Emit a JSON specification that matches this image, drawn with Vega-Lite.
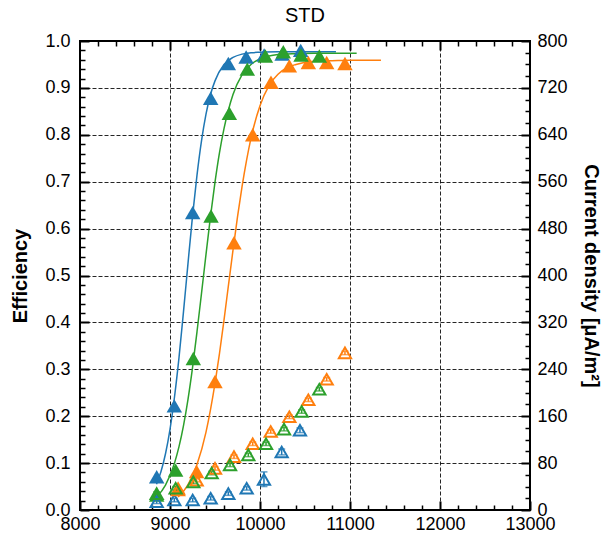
{
  "$schema": "https://vega.github.io/schema/vega-lite/v6.json",
  "width": 450,
  "height": 469,
  "autosize": {"type": "none"},
  "padding": {"left": 80, "top": 41, "right": 76, "bottom": 27},
  "title": {"text": "STD", "fontSize": 20, "font": "Liberation Sans", "fontWeight": "normal", "offset": 6, "anchor": "middle", "color": "black"},
  "config": {
    "view": {"stroke": "black", "strokeWidth": 2},
    "axis": {"labelFont": "Liberation Sans", "labelFontSize": 18, "labelColor": "black", "titleFont": "Liberation Sans", "titleFontSize": 20, "titleFontWeight": "bold", "titleColor": "black", "tickColor": "black", "domain": false, "labelFlush": false, "labelOverlap": false, "gridColor": "black", "gridDash": [4, 2], "gridWidth": 1, "gridOpacity": 0.85}
  },
  "datasets": {
    "curves": [
      {"s": "A", "x": 8850, "y": 0.055}, {"s": "A", "x": 8900, "y": 0.082}, {"s": "A", "x": 8950, "y": 0.120}, {"s": "A", "x": 9000, "y": 0.172}, {"s": "A", "x": 9050, "y": 0.241}, {"s": "A", "x": 9100, "y": 0.325}, {"s": "A", "x": 9150, "y": 0.423}, {"s": "A", "x": 9200, "y": 0.526}, {"s": "A", "x": 9250, "y": 0.626}, {"s": "A", "x": 9300, "y": 0.714}, {"s": "A", "x": 9350, "y": 0.787}, {"s": "A", "x": 9400, "y": 0.844}, {"s": "A", "x": 9450, "y": 0.886}, {"s": "A", "x": 9500, "y": 0.915}, {"s": "A", "x": 9600, "y": 0.950}, {"s": "A", "x": 9700, "y": 0.965}, {"s": "A", "x": 9800, "y": 0.972}, {"s": "A", "x": 9900, "y": 0.975}, {"s": "A", "x": 10000, "y": 0.976}, {"s": "A", "x": 10200, "y": 0.977}, {"s": "A", "x": 10500, "y": 0.977}, {"s": "A", "x": 10844, "y": 0.977},
      {"s": "B", "x": 9090, "y": 0.028}, {"s": "B", "x": 9150, "y": 0.040}, {"s": "B", "x": 9200, "y": 0.054}, {"s": "B", "x": 9300, "y": 0.097}, {"s": "B", "x": 9400, "y": 0.166}, {"s": "B", "x": 9450, "y": 0.214}, {"s": "B", "x": 9500, "y": 0.270}, {"s": "B", "x": 9550, "y": 0.334}, {"s": "B", "x": 9600, "y": 0.405}, {"s": "B", "x": 9650, "y": 0.480}, {"s": "B", "x": 9700, "y": 0.554}, {"s": "B", "x": 9750, "y": 0.625}, {"s": "B", "x": 9800, "y": 0.689}, {"s": "B", "x": 9850, "y": 0.745}, {"s": "B", "x": 9900, "y": 0.793}, {"s": "B", "x": 10000, "y": 0.862}, {"s": "B", "x": 10100, "y": 0.905}, {"s": "B", "x": 10200, "y": 0.929}, {"s": "B", "x": 10300, "y": 0.943}, {"s": "B", "x": 10400, "y": 0.950}, {"s": "B", "x": 10600, "y": 0.957}, {"s": "B", "x": 10800, "y": 0.958}, {"s": "B", "x": 11000, "y": 0.959}, {"s": "B", "x": 11344, "y": 0.959},
      {"s": "C", "x": 8850, "y": 0.027}, {"s": "C", "x": 8950, "y": 0.053}, {"s": "C", "x": 9050, "y": 0.100}, {"s": "C", "x": 9100, "y": 0.135}, {"s": "C", "x": 9150, "y": 0.180}, {"s": "C", "x": 9200, "y": 0.236}, {"s": "C", "x": 9250, "y": 0.303}, {"s": "C", "x": 9300, "y": 0.380}, {"s": "C", "x": 9350, "y": 0.462}, {"s": "C", "x": 9400, "y": 0.545}, {"s": "C", "x": 9450, "y": 0.626}, {"s": "C", "x": 9500, "y": 0.699}, {"s": "C", "x": 9550, "y": 0.762}, {"s": "C", "x": 9600, "y": 0.813}, {"s": "C", "x": 9700, "y": 0.886}, {"s": "C", "x": 9800, "y": 0.928}, {"s": "C", "x": 9900, "y": 0.950}, {"s": "C", "x": 10000, "y": 0.962}, {"s": "C", "x": 10100, "y": 0.968}, {"s": "C", "x": 10200, "y": 0.971}, {"s": "C", "x": 10400, "y": 0.973}, {"s": "C", "x": 10600, "y": 0.974}, {"s": "C", "x": 11074, "y": 0.974}
    ],
    "eff": [
      {"s": "A", "x": 8852, "y": 0.071}, {"s": "A", "x": 9048, "y": 0.222}, {"s": "A", "x": 9252, "y": 0.634}, {"s": "A", "x": 9452, "y": 0.878}, {"s": "A", "x": 9648, "y": 0.952}, {"s": "A", "x": 9846, "y": 0.966}, {"s": "A", "x": 10046, "y": 0.970}, {"s": "A", "x": 10246, "y": 0.972}, {"s": "A", "x": 10452, "y": 0.980},
      {"s": "B", "x": 9090, "y": 0.047}, {"s": "B", "x": 9296, "y": 0.082}, {"s": "B", "x": 9500, "y": 0.274}, {"s": "B", "x": 9711, "y": 0.570}, {"s": "B", "x": 9919, "y": 0.800}, {"s": "B", "x": 10122, "y": 0.912}, {"s": "B", "x": 10326, "y": 0.947}, {"s": "B", "x": 10537, "y": 0.954}, {"s": "B", "x": 10741, "y": 0.954}, {"s": "B", "x": 10944, "y": 0.952},
      {"s": "C", "x": 8852, "y": 0.032}, {"s": "C", "x": 9063, "y": 0.085}, {"s": "C", "x": 9259, "y": 0.323}, {"s": "C", "x": 9456, "y": 0.627}, {"s": "C", "x": 9659, "y": 0.846}, {"s": "C", "x": 9859, "y": 0.940}, {"s": "C", "x": 10060, "y": 0.968}, {"s": "C", "x": 10259, "y": 0.977}, {"s": "C", "x": 10456, "y": 0.970}, {"s": "C", "x": 10659, "y": 0.968}
    ],
    "cd": [
      {"s": "A", "x": 8852, "cd": 14, "lo": 11, "hi": 17}, {"s": "A", "x": 9048, "cd": 17, "lo": 14, "hi": 20}, {"s": "A", "x": 9252, "cd": 17, "lo": 14, "hi": 20}, {"s": "A", "x": 9452, "cd": 20, "lo": 17, "hi": 23}, {"s": "A", "x": 9648, "cd": 28, "lo": 25, "hi": 31}, {"s": "A", "x": 9852, "cd": 37, "lo": 34, "hi": 40}, {"s": "A", "x": 10044, "cd": 52, "lo": 40, "hi": 65}, {"s": "A", "x": 10241, "cd": 99, "lo": 94, "hi": 104}, {"s": "A", "x": 10444, "cd": 136, "lo": 132, "hi": 140},
      {"s": "B", "x": 9090, "cd": 34, "lo": 31, "hi": 37}, {"s": "B", "x": 9296, "cd": 51, "lo": 48, "hi": 54}, {"s": "B", "x": 9500, "cd": 71, "lo": 68, "hi": 74}, {"s": "B", "x": 9711, "cd": 91, "lo": 88, "hi": 94}, {"s": "B", "x": 9919, "cd": 113, "lo": 110, "hi": 116}, {"s": "B", "x": 10119, "cd": 134, "lo": 131, "hi": 137}, {"s": "B", "x": 10326, "cd": 159, "lo": 156, "hi": 162}, {"s": "B", "x": 10537, "cd": 188, "lo": 185, "hi": 191}, {"s": "B", "x": 10741, "cd": 223, "lo": 220, "hi": 226}, {"s": "B", "x": 10944, "cd": 268, "lo": 265, "hi": 271},
      {"s": "C", "x": 8852, "cd": 28, "lo": 25, "hi": 31}, {"s": "C", "x": 9063, "cd": 37, "lo": 34, "hi": 40}, {"s": "C", "x": 9259, "cd": 48, "lo": 45, "hi": 51}, {"s": "C", "x": 9463, "cd": 63, "lo": 60, "hi": 66}, {"s": "C", "x": 9667, "cd": 77, "lo": 74, "hi": 80}, {"s": "C", "x": 9870, "cd": 94, "lo": 91, "hi": 97}, {"s": "C", "x": 10067, "cd": 113, "lo": 110, "hi": 116}, {"s": "C", "x": 10267, "cd": 138, "lo": 135, "hi": 141}, {"s": "C", "x": 10463, "cd": 168, "lo": 165, "hi": 171}, {"s": "C", "x": 10659, "cd": 206, "lo": 203, "hi": 209}
    ]
  },
  "resolve": {"scale": {"y": "independent"}, "axis": {"x": "independent", "y": "independent"}},
  "layer": [
    {
      "data": {"name": "curves"},
      "mark": {"type": "line", "strokeWidth": 1.5, "interpolate": "monotone"},
      "encoding": {
        "x": {"field": "x", "type": "quantitative", "scale": {"domain": [8000, 13000], "nice": false, "zero": false},
          "axis": {"orient": "bottom", "values": [8000, 9000, 10000, 11000, 12000, 13000], "format": "d", "grid": true, "tickSize": -9, "tickWidth": 2, "labelPadding": 14, "title": null}},
        "y": {"field": "y", "type": "quantitative", "scale": {"domain": [0, 1], "nice": false},
          "axis": {"orient": "left", "values": [0, 0.1, 0.2, 0.3, 0.4, 0.5, 0.6, 0.7, 0.8, 0.9, 1.0], "format": ".1f", "grid": true, "tickSize": -9, "tickWidth": 2, "labelPadding": 19, "title": "Efficiency", "titlePadding": 14}},
        "color": {"field": "s", "type": "nominal", "scale": {"domain": ["A", "B", "C"], "range": ["#1f77b4", "#ff7f0e", "#2ca02c"]}, "legend": null}
      }
    },
    {
      "data": {"name": "eff"},
      "mark": {"type": "point", "shape": "triangle-up", "filled": true, "size": 240, "opacity": 1},
      "encoding": {
        "x": {"field": "x", "type": "quantitative", "scale": {"domain": [8000, 13000], "nice": false, "zero": false},
          "axis": {"orient": "top", "values": [9000, 10000, 11000, 12000], "labels": false, "grid": false, "tickSize": -9, "tickWidth": 2, "title": null}},
        "y": {"field": "y", "type": "quantitative", "scale": {"domain": [0, 1], "nice": false},
          "axis": {"orient": "left", "values": [0.02, 0.04, 0.06, 0.08, 0.12, 0.14, 0.16, 0.18, 0.22, 0.24, 0.26, 0.28, 0.32, 0.34, 0.36, 0.38, 0.42, 0.44, 0.46, 0.48, 0.52, 0.54, 0.56, 0.58, 0.62, 0.64, 0.66, 0.68, 0.72, 0.74, 0.76, 0.78, 0.82, 0.84, 0.86, 0.88, 0.92, 0.94, 0.96, 0.98], "labels": false, "grid": false, "tickSize": -5, "tickWidth": 1.5, "title": null}},
        "color": {"field": "s", "type": "nominal", "legend": null}
      }
    },
    {
      "data": {"name": "cd"},
      "mark": {"type": "errorbar", "ticks": {"size": 7}, "thickness": 1.5},
      "encoding": {
        "x": {"field": "x", "type": "quantitative", "scale": {"domain": [8000, 13000], "nice": false, "zero": false}, "axis": null},
        "y": {"field": "lo", "type": "quantitative", "scale": {"domain": [0, 800], "nice": false}, "axis": null},
        "y2": {"field": "hi"},
        "color": {"field": "s", "type": "nominal", "legend": null}
      }
    },
    {
      "data": {"name": "cd"},
      "mark": {"type": "point", "shape": "triangle-up", "filled": false, "size": 150, "strokeWidth": 2, "opacity": 1},
      "encoding": {
        "x": {"field": "x", "type": "quantitative", "scale": {"domain": [8000, 13000], "nice": false, "zero": false},
          "axis": {"orient": "top", "values": [8200, 8400, 8600, 8800, 9200, 9400, 9600, 9800, 10200, 10400, 10600, 10800, 11200, 11400, 11600, 11800, 12200, 12400, 12600, 12800], "labels": false, "grid": false, "tickSize": -5, "tickWidth": 1.5, "title": null}},
        "y": {"field": "cd", "type": "quantitative", "scale": {"domain": [0, 800], "nice": false},
          "axis": {"orient": "right", "values": [0, 80, 160, 240, 320, 400, 480, 560, 640, 720, 800], "format": "d", "grid": false, "tickSize": -9, "tickWidth": 2, "labelPadding": 16, "title": "Current density [μA/m²]", "titlePadding": 13}},
        "color": {"field": "s", "type": "nominal", "legend": null}
      }
    },
    {
      "data": {"name": "cd"},
      "mark": {"type": "point", "opacity": 0},
      "encoding": {
        "x": {"field": "x", "type": "quantitative", "scale": {"domain": [8000, 13000], "nice": false, "zero": false},
          "axis": {"orient": "bottom", "values": [8200, 8400, 8600, 8800, 9200, 9400, 9600, 9800, 10200, 10400, 10600, 10800, 11200, 11400, 11600, 11800, 12200, 12400, 12600, 12800], "labels": false, "grid": false, "tickSize": -5, "tickWidth": 1.5, "title": null}},
        "y": {"field": "cd", "type": "quantitative", "scale": {"domain": [0, 800], "nice": false},
          "axis": {"orient": "right", "values": [20, 40, 60, 100, 120, 140, 180, 200, 220, 260, 280, 300, 340, 360, 380, 420, 440, 460, 500, 520, 540, 580, 600, 620, 660, 680, 700, 740, 760, 780], "labels": false, "grid": false, "tickSize": -5, "tickWidth": 1.5, "title": null}}
      }
    }
  ]
}
